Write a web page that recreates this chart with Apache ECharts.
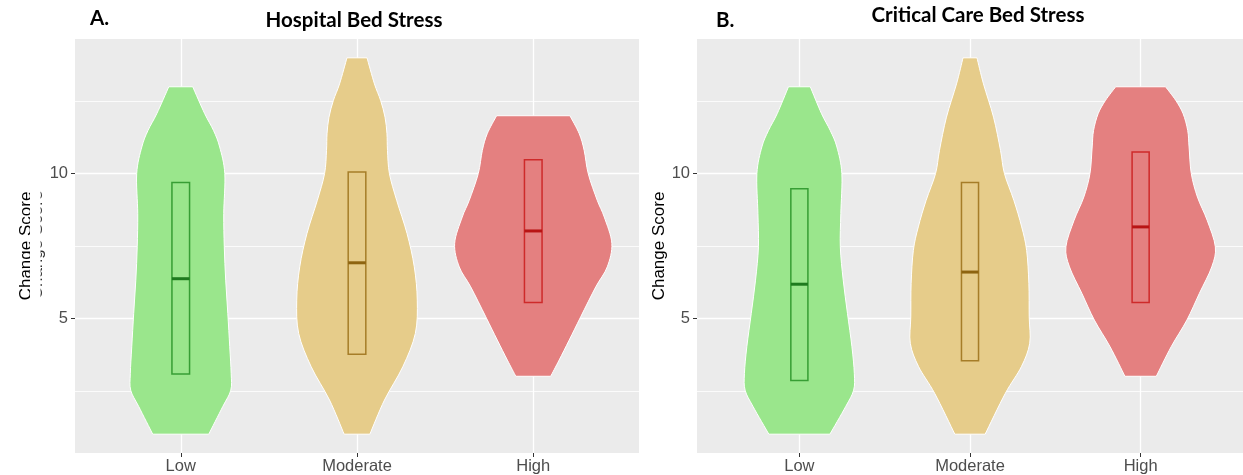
<!DOCTYPE html>
<html><head><meta charset="utf-8">
<script src="https://cdn.jsdelivr.net/npm/echarts@6/dist/echarts.min.js"></script>
<style>html,body{margin:0;padding:0;background:#fff}#chart{width:1243px;height:475px}</style>
</head><body><div id="chart"></div>
<script>
const categories = ['Low', 'Moderate', 'High'];
const categoryPositions = [1, 2, 3];
const yTickValues = [5, 10];
const yMinorValues = [2.5, 7.5, 12.5];
const panelTitles = ['Hospital Bed Stress', 'Critical Care Bed Stress'];
const panelLetters = ['A.', 'B.'];
const yAxisTitle = 'Change Score';

// Hospital Bed Stress: violin outline (score level, half width in category units)
const hospLowLevels = [13, 12.07, 11.49, 10.92, 10.0, 8.62, 7.47, 6.32, 5.17, 4.02, 3.10, 2.52, 1.95, 1.0];
const hospLowHalf = [0.068, 0.136, 0.186, 0.221, 0.250, 0.244, 0.247, 0.255, 0.267, 0.278, 0.286, 0.284, 0.238, 0.159];
const hospModLevels = [14, 13.10, 12.53, 11.95, 11.38, 10.80, 10.0, 9.08, 7.93, 6.78, 5.63, 4.48, 3.33, 2.18, 1.0];
const hospModHalf = [0.057, 0.099, 0.134, 0.159, 0.170, 0.173, 0.184, 0.225, 0.284, 0.325, 0.342, 0.331, 0.260, 0.156, 0.073];
const hospHighLevels = [12, 11.38, 10.80, 10.0, 9.08, 8.50, 7.59, 6.78, 6.09, 5.05, 4.25, 3.56, 3.0];
const hospHighHalf = [0.208, 0.261, 0.289, 0.312, 0.363, 0.403, 0.446, 0.420, 0.355, 0.269, 0.204, 0.147, 0.099];
const hospQ1 = [3.08, 3.76, 5.55];
const hospMedian = [6.37, 6.92, 8.02];
const hospQ3 = [9.69, 10.06, 10.48];

// Critical Care Bed Stress
const critLowLevels = [13, 12.07, 11.49, 10.92, 10.0, 8.62, 7.47, 6.32, 5.17, 4.02, 3.10, 2.52, 1.95, 1.0];
const critLowHalf = [0.064, 0.130, 0.181, 0.220, 0.249, 0.243, 0.240, 0.257, 0.282, 0.308, 0.322, 0.318, 0.271, 0.179];
const critModLevels = [14, 13.10, 11.95, 10.80, 10.0, 9.08, 8.16, 7.35, 6.21, 5.05, 4.14, 3.33, 2.41, 1.0];
const critModHalf = [0.041, 0.079, 0.138, 0.179, 0.202, 0.257, 0.303, 0.332, 0.345, 0.347, 0.350, 0.301, 0.207, 0.089];
const critHighLevels = [13, 12.53, 12.07, 11.49, 10.92, 10.0, 9.19, 8.39, 7.47, 6.78, 5.86, 4.94, 4.02, 3.0];
const critHighHalf = [0.146, 0.206, 0.249, 0.276, 0.284, 0.297, 0.333, 0.390, 0.438, 0.417, 0.344, 0.271, 0.179, 0.092];
const critQ1 = [2.85, 3.54, 5.55];
const critMedian = [6.18, 6.60, 8.16];
const critQ3 = [9.48, 9.69, 10.75];

const violinFill = ['#9AE68C', '#E6CC8A', '#E48080'];
const boxStroke = ['rgba(30,140,30,0.8)', 'rgba(150,105,15,0.8)', 'rgba(200,20,20,0.8)'];
const medianStroke = ['#1E7A1E', '#8E6410', '#B81414'];
const BOX_HALF = 0.05;

function splinePath(pts) {
  let d = '';
  const n = pts.length;
  for (let i = 0; i < n - 1; i++) {
    const p0 = pts[Math.max(i - 1, 0)], p1 = pts[i], p2 = pts[i + 1], p3 = pts[Math.min(i + 2, n - 1)];
    const c1x = p1[0] + (p2[0] - p0[0]) / 6, c1y = p1[1] + (p2[1] - p0[1]) / 6;
    const c2x = p2[0] - (p3[0] - p1[0]) / 6, c2y = p2[1] - (p3[1] - p1[1]) / 6;
    d += ' C' + c1x + ' ' + c1y + ' ' + c2x + ' ' + c2y + ' ' + p2[0] + ' ' + p2[1];
  }
  return d;
}

function makeRender(levels, halves, q1, med, q3) {
  return function (params, api) {
    const i = params.dataIndex;
    const x = api.value(0);
    const lv = levels[i], hw = halves[i];
    const right = lv.map((v, k) => api.coord([x + hw[k], v]));
    const left = lv.map((v, k) => api.coord([x - hw[k], v])).reverse();
    const d = 'M' + right[0][0] + ' ' + right[0][1] + splinePath(right) +
      ' L' + left[0][0] + ' ' + left[0][1] + splinePath(left) + ' Z';
    const b1 = api.coord([x - BOX_HALF, q3[i]]);
    const b2 = api.coord([x + BOX_HALF, q1[i]]);
    const m1 = api.coord([x - BOX_HALF, med[i]]);
    const m2 = api.coord([x + BOX_HALF, med[i]]);
    return {
      type: 'group',
      children: [
        { type: 'path', shape: { pathData: d }, style: { fill: violinFill[i], stroke: '#FFFFFF', lineWidth: 1 } },
        { type: 'rect', shape: { x: b1[0], y: b1[1], width: b2[0] - b1[0], height: b2[1] - b1[1] },
          style: { fill: 'rgba(0,0,0,0)', stroke: boxStroke[i], lineWidth: 1.5 } },
        { type: 'line', shape: { x1: m1[0], y1: m1[1], x2: m2[0], y2: m2[1] },
          style: { stroke: medianStroke[i], lineWidth: 3 } }
      ]
    };
  };
}

const chart = echarts.init(document.getElementById('chart'), null, { renderer: 'canvas' });
const labelFont = 'Liberation Sans';
const grids = [
  { left: 75, top: 39, width: 564, height: 414 },
  { left: 697, top: 39, width: 566, height: 414 }
];
const centers = grids.map(g => g.left + g.width / 2);
const nameGaps = [40, 28];

function xAxisFor(idx) {
  return {
    type: 'value', gridIndex: idx, min: 0.4, max: 3.6,
    axisLine: { show: false },
    axisTick: { show: true, customValues: categoryPositions, length: 4, lineStyle: { color: '#333333', width: 1 } },
    axisLabel: { customValues: categoryPositions, formatter: v => categories[Math.round(v) - 1] || '',
      color: '#4D4D4D', fontSize: 16.5, fontFamily: labelFont, margin: 5 },
    splitLine: { show: true, lineStyle: { color: '#FFFFFF', width: 1.3 } }
  };
}
function yAxesFor(idx) {
  return [{
    type: 'value', gridIndex: idx, min: 0.35, max: 14.65, position: 'left',
    name: yAxisTitle, nameLocation: 'middle', nameGap: nameGaps[idx],
    nameTextStyle: { color: '#000000', fontSize: 17, fontFamily: labelFont },
    axisLine: { show: false },
    axisTick: { show: true, customValues: yTickValues, length: 4, lineStyle: { color: '#333333', width: 1 } },
    axisLabel: { customValues: yTickValues, color: '#4D4D4D', fontSize: 16.5, fontFamily: labelFont, margin: 7 },
    splitLine: { show: true, lineStyle: { color: '#FFFFFF', width: 1.3 } }
  }, {
    type: 'value', gridIndex: idx, min: 0.35, max: 14.65, position: 'left',
    axisLine: { show: false },
    axisTick: { show: false, customValues: yMinorValues },
    axisLabel: { show: false, customValues: yMinorValues },
    splitLine: { show: true, lineStyle: { color: '#FFFFFF', width: 0.8 } }
  }];
}

const titleStyle = { color: '#000000', fontSize: 20.5, fontWeight: 'bold', fontFamily: 'Lato' };
const option = {
  backgroundColor: '#FFFFFF',
  animation: false,
  title: [
    { text: panelLetters[0], left: 90, top: 8, padding: 0, textStyle: titleStyle },
    { text: panelTitles[0], left: centers[0] - 3, top: 10, padding: 0, textAlign: 'center', textStyle: titleStyle },
    { text: panelLetters[1], left: 716, top: 10, padding: 0, textStyle: titleStyle },
    { text: panelTitles[1], left: centers[1] - 2, top: 5, padding: 0, textAlign: 'center', textStyle: titleStyle }
  ],
  // faint clipped duplicate of the left axis title seen in the original figure
  graphic: [
    { type: 'text', x: 37.5, y: 245, rotation: Math.PI / 2, z: 1, silent: true,
      style: { text: yAxisTitle, fill: '#333333', font: '17px "Liberation Sans"', align: 'center', verticalAlign: 'middle' } },
    { type: 'rect', shape: { x: 30, y: 180, width: 10.5, height: 130 }, z: 2, silent: true,
      style: { fill: '#FFFFFF' } }
  ],
  grid: grids.map(g => Object.assign({ show: true, backgroundColor: '#EBEBEB', borderWidth: 0 }, g)),
  xAxis: [xAxisFor(0), xAxisFor(1)],
  yAxis: yAxesFor(0).concat(yAxesFor(1)),
  series: [
    { type: 'custom', xAxisIndex: 0, yAxisIndex: 0, silent: true,
      renderItem: makeRender([hospLowLevels, hospModLevels, hospHighLevels], [hospLowHalf, hospModHalf, hospHighHalf], hospQ1, hospMedian, hospQ3),
      data: categoryPositions.map((p, i) => [p, hospMedian[i]]) },
    { type: 'custom', xAxisIndex: 1, yAxisIndex: 2, silent: true,
      renderItem: makeRender([critLowLevels, critModLevels, critHighLevels], [critLowHalf, critModHalf, critHighHalf], critQ1, critMedian, critQ3),
      data: categoryPositions.map((p, i) => [p, critMedian[i]]) }
  ]
};
chart.setOption(option);
</script></body></html>
